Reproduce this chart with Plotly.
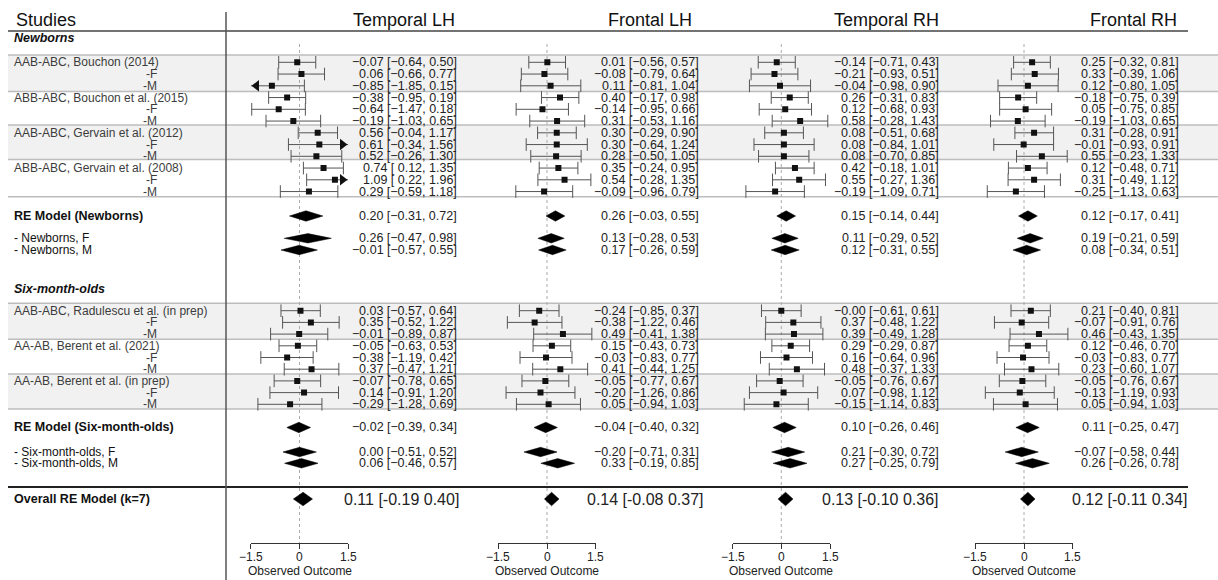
import math
import plotly.graph_objects as go

W, H = 1218, 580

# ---------------- data ----------------
panels = ["Temporal LH", "Frontal LH", "Temporal RH", "Frontal RH"]
studies_nb = ["AAB-ABC, Bouchon (2014)", "ABB-ABC, Bouchon et al. (2015)",
              "AAB-ABC, Gervain et al. (2012)", "ABB-ABC, Gervain et al. (2008)"]
studies_six = ["AAB-ABC, Radulescu et al. (in prep)", "AA-AB, Berent et al. (2021)",
               "AA-AB, Berent et al. (in prep)"]
summary_labels = ["RE Model (Newborns)", "- Newborns, F", "- Newborns, M",
                  "RE Model (Six-month-olds)", "- Six-month-olds, F", "- Six-month-olds, M"]
overall_label = "Overall RE Model (k=7)"
tick_vals = [-1.5, 0, 1.5]
tick_text = ["\u22121.5", "0", "1.5"]

# study rows: 12 newborn rows (study, F, M x4) then 9 six-month rows (x3)
tlh_est = [-0.07, 0.06, -0.85, -0.38, -0.64, -0.19, 0.56, 0.61, 0.52, 0.74, 1.09, 0.29,
           0.03, 0.35, -0.01, -0.05, -0.38, 0.37, -0.07, 0.14, -0.29]
tlh_lo = [-0.64, -0.66, -1.85, -0.95, -1.47, -1.03, -0.04, -0.34, -0.26, 0.12, 0.22, -0.59,
          -0.57, -0.52, -0.89, -0.63, -1.19, -0.47, -0.78, -0.91, -1.28]
tlh_hi = [0.50, 0.77, 0.15, 0.19, 0.18, 0.65, 1.17, 1.56, 1.30, 1.35, 1.96, 1.18,
          0.64, 1.22, 0.87, 0.53, 0.42, 1.21, 0.65, 1.20, 0.69]
tlh_re_est = [0.20, 0.26, -0.01, -0.02, 0.00, 0.06]
tlh_re_lo = [-0.31, -0.47, -0.57, -0.39, -0.51, -0.46]
tlh_re_hi = [0.72, 0.98, 0.55, 0.34, 0.52, 0.57]
tlh_overall = [0.11, -0.19, 0.40]

flh_est = [0.01, -0.08, 0.11, 0.40, -0.14, 0.31, 0.30, 0.30, 0.28, 0.35, 0.54, -0.09,
           -0.24, -0.38, 0.49, 0.15, -0.03, 0.41, -0.05, -0.20, 0.05]
flh_lo = [-0.56, -0.79, -0.81, -0.17, -0.95, -0.53, -0.29, -0.64, -0.50, -0.24, -0.28, -0.96,
          -0.85, -1.22, -0.41, -0.43, -0.83, -0.44, -0.77, -1.26, -0.94]
flh_hi = [0.57, 0.64, 1.04, 0.98, 0.66, 1.16, 0.90, 1.24, 1.05, 0.95, 1.35, 0.79,
          0.37, 0.46, 1.38, 0.73, 0.77, 1.25, 0.67, 0.86, 1.03]
flh_re_est = [0.26, 0.13, 0.17, -0.04, -0.20, 0.33]
flh_re_lo = [-0.03, -0.28, -0.26, -0.40, -0.71, -0.19]
flh_re_hi = [0.55, 0.53, 0.59, 0.32, 0.31, 0.85]
flh_overall = [0.14, -0.08, 0.37]

trh_est = [-0.14, -0.21, -0.04, 0.26, 0.12, 0.58, 0.08, 0.08, 0.08, 0.42, 0.55, -0.19,
           -0.0, 0.37, 0.39, 0.29, 0.16, 0.48, -0.05, 0.07, -0.15]
trh_lo = [-0.71, -0.93, -0.98, -0.31, -0.68, -0.28, -0.51, -0.84, -0.70, -0.18, -0.27, -1.09,
          -0.61, -0.48, -0.49, -0.29, -0.64, -0.37, -0.76, -0.98, -1.14]
trh_hi = [0.43, 0.51, 0.90, 0.83, 0.93, 1.43, 0.68, 1.01, 0.85, 1.01, 1.36, 0.71,
          0.61, 1.22, 1.28, 0.87, 0.96, 1.33, 0.67, 1.12, 0.83]
trh_re_est = [0.15, 0.11, 0.12, 0.10, 0.21, 0.27]
trh_re_lo = [-0.14, -0.29, -0.31, -0.26, -0.30, -0.25]
trh_re_hi = [0.44, 0.52, 0.55, 0.46, 0.72, 0.79]
trh_overall = [0.13, -0.10, 0.36]

frh_est = [0.25, 0.33, 0.12, -0.18, 0.05, -0.19, 0.31, -0.01, 0.55, 0.12, 0.31, -0.25,
           0.21, -0.07, 0.46, 0.12, -0.03, 0.23, -0.05, -0.13, 0.05]
frh_lo = [-0.32, -0.39, -0.80, -0.75, -0.75, -1.03, -0.28, -0.93, -0.23, -0.48, -0.49, -1.13,
          -0.40, -0.91, -0.43, -0.46, -0.83, -0.60, -0.76, -1.19, -0.94]
frh_hi = [0.81, 1.06, 1.05, 0.39, 0.85, 0.65, 0.91, 0.91, 1.33, 0.71, 1.12, 0.63,
          0.81, 0.76, 1.35, 0.70, 0.77, 1.07, 0.67, 0.93, 1.03]
frh_re_est = [0.12, 0.19, 0.08, 0.11, -0.07, 0.26]
frh_re_lo = [-0.17, -0.21, -0.34, -0.25, -0.58, -0.26]
frh_re_hi = [0.41, 0.59, 0.51, 0.47, 0.44, 0.78]
frh_overall = [0.12, -0.11, 0.34]

panel_data = [
    (tlh_est, tlh_lo, tlh_hi, tlh_re_est, tlh_re_lo, tlh_re_hi, tlh_overall),
    (flh_est, flh_lo, flh_hi, flh_re_est, flh_re_lo, flh_re_hi, flh_overall),
    (trh_est, trh_lo, trh_hi, trh_re_est, trh_re_lo, trh_re_hi, trh_overall),
    (frh_est, frh_lo, frh_hi, frh_re_est, frh_re_lo, frh_re_hi, frh_overall),
]

# ---------------- layout geometry (pixels) ----------------
nb_y = [62.3 + 11.75 * i for i in range(12)]
six_y = [310.7 + 11.7 * i for i in range(9)]
study_y = nb_y + six_y
summ_y = [216, 238.3, 250, 427.5, 452, 463.3]
summ_h = [5.2, 4.7, 4.7, 5.2, 4.7, 4.7]
overall_y, overall_h = 499, 6.8
axis_y = 543
zero_px = [299.5, 547.0, 781.3, 1024.0]
unit_px = 32.5
alim = 1.5
text_right = [458, 700, 940, 1180]
overall_right = [460, 705, 940, 1188]
header_right = [456, 693, 940, 1178]
FONT = "Liberation Sans, Arial, Helvetica, sans-serif"


def px_x(p):
    return p / W


def px_y(p):
    return 1 - p / H


def fmt(v):
    neg = v < 0 or (v == 0 and math.copysign(1, v) < 0)
    return ("\u2212" if neg else "") + f"{abs(v):.2f}"


def ci_text(e, l, h):
    ls = fmt(l) if l < 0 else " " + fmt(l)
    return f"{fmt(e)} [{ls}, {fmt(h)}]"


fig = go.Figure()
annotations = []
shapes = []


def ann(text, x, y, anchor="left", size=12, color="#222", bold=False, italic=False,
        xref="paper", xval=None):
    t = text
    if bold:
        t = f"<b>{t}</b>"
    if italic:
        t = f"<i>{t}</i>"
    annotations.append(dict(text=t, x=px_x(x) if xval is None else xval, y=px_y(y),
                            xref=xref, yref="paper",
                            xanchor=anchor, yanchor="middle", showarrow=False,
                            font=dict(size=size, color=color, family=FONT), borderpad=0))


# shaded bands
for y0, y1 in [(55, 91.5), (125, 159.5), (303.3, 339.3), (374, 409)]:
    shapes.append(dict(type="rect", xref="paper", yref="y", x0=px_x(8), x1=1, y0=y0, y1=y1,
                       fillcolor="#f1f1f1", line=dict(width=0), layer="below"))
for yl in [55, 91.5, 125, 159.5, 196.7, 303.3, 339.3, 374, 409]:
    shapes.append(dict(type="line", xref="paper", yref="y", x0=px_x(8), x1=1, y0=yl, y1=yl,
                       line=dict(color="#bdbdbd", width=1.6), layer="below"))
# header rule, overall rule, vertical separator
shapes.append(dict(type="line", xref="paper", yref="y", x0=px_x(8), x1=px_x(1188), y0=31, y1=31,
                   line=dict(color="#444", width=1.5)))
shapes.append(dict(type="line", xref="paper", yref="y", x0=px_x(8), x1=px_x(1188), y0=487, y1=487,
                   line=dict(color="#222", width=2)))
shapes.append(dict(type="line", xref="paper", yref="y", x0=px_x(226), x1=px_x(226), y0=12, y1=H,
                   line=dict(color="#555", width=1.5)))

layout_axes = {}
for i, (name, data) in enumerate(zip(panels, panel_data)):
    est, lo, hi, re_est, re_lo, re_hi, ov = data
    xa = "x" if i == 0 else f"x{i + 1}"
    key = "xaxis" if i == 0 else f"xaxis{i + 1}"
    z = zero_px[i]
    layout_axes[key] = dict(
        domain=[px_x(z - alim * unit_px), px_x(z + alim * unit_px)],
        range=[-alim, alim], anchor="free", position=px_y(axis_y),
        tickvals=tick_vals, ticks="outside", ticklen=5, showticklabels=False,
        tickcolor="#333", showline=True, linecolor="#333", linewidth=1,
        showgrid=False, zeroline=False, automargin=False, fixedrange=True)

    # dotted zero line
    shapes.append(dict(type="line", xref=xa, yref="y", x0=0, x1=0, y0=44, y1=axis_y,
                       line=dict(color="#aaa", width=1, dash="dot"), layer="below"))

    # CI lines (clipped)
    lx, ly, cx, cy, ax_l, ay_l, ax_r, ay_r = [], [], [], [], [], [], [], []
    tri_off = (5 * 2 / math.sqrt(3)) / unit_px
    for e, l, h, y in zip(est, lo, hi, study_y):
        lc, hc = max(l, -alim), min(h, alim)
        lx += [lc, hc, None]
        ly += [y, y, None]
        if l >= -alim:
            cx.append(l); cy.append(y)
        else:
            ax_l.append(-alim + tri_off); ay_l.append(y)
        if h <= alim:
            cx.append(h); cy.append(y)
        else:
            ax_r.append(alim - tri_off); ay_r.append(y)
    fig.add_trace(go.Scatter(x=lx, y=ly, mode="lines", xaxis=xa, yaxis="y",
                             line=dict(color="#555", width=1), hoverinfo="skip"))
    fig.add_trace(go.Scatter(x=cx, y=cy, mode="markers", xaxis=xa, yaxis="y",
                             marker=dict(symbol="line-ns-open", size=9, color="#555",
                                         line=dict(color="#555", width=1)), hoverinfo="skip"))
    fig.add_trace(go.Scatter(x=est, y=study_y, mode="markers", xaxis=xa, yaxis="y",
                             marker=dict(symbol="square", size=6, color="#111",
                                         line=dict(width=0))))
    if ax_l:
        fig.add_trace(go.Scatter(x=ax_l, y=ay_l, mode="markers", xaxis=xa, yaxis="y",
                                 cliponaxis=False,
                                 marker=dict(symbol="triangle-left", size=10, color="#111")))
    if ax_r:
        fig.add_trace(go.Scatter(x=ax_r, y=ay_r, mode="markers", xaxis=xa, yaxis="y",
                                 cliponaxis=False,
                                 marker=dict(symbol="triangle-right", size=10, color="#111")))

    # summary diamonds
    dx, dy = [], []
    for e, l, h, y, hh in zip(re_est, re_lo, re_hi, summ_y, summ_h):
        dx += [l, e, h, e, l, None]
        dy += [y, y - hh, y, y + hh, y, None]
    e, l, h = ov
    dx += [l, e, h, e, l]
    dy += [overall_y, overall_y - overall_h, overall_y, overall_y + overall_h, overall_y]
    fig.add_trace(go.Scatter(x=dx, y=dy, mode="lines", fill="toself", fillcolor="#000",
                             xaxis=xa, yaxis="y", line=dict(color="#000", width=0.5),
                             hoverinfo="skip"))

    # texts
    ann(name, header_right[i], 20, anchor="right", size=18, color="#111")
    for e, l, h, y in zip(est, lo, hi, study_y):
        ann(ci_text(e, l, h), text_right[i], y, anchor="right", size=12.5)
    for e, l, h, y in zip(re_est, re_lo, re_hi, summ_y):
        ann(ci_text(e, l, h), text_right[i], y, anchor="right", size=12.5)
    e, l, h = ov
    ann(f"{e:.2f} [{l:.2f} {h:.2f}]", overall_right[i], overall_y, anchor="right", size=16)
    for tv, tt in zip(tick_vals, tick_text):
        ann(tt, 0, 557, anchor="center", size=12, xref=xa, xval=tv)
    ann("Observed Outcome", z, 571, anchor="center", size=12)

# left column labels
ann("Studies", 15, 20, size=18, color="#111")
ann("Newborns", 13, 38, size=12.5, color="#111", bold=True, italic=True)
ann("Six-month-olds", 13, 289, size=12.5, color="#111", bold=True, italic=True)
for s, k in zip(studies_nb, range(0, 12, 3)):
    ann(s, 13, nb_y[k], color="#3c3c3c")
    ann("-F", 158, nb_y[k + 1], anchor="right", color="#3c3c3c")
    ann("-M", 158, nb_y[k + 2], anchor="right", color="#3c3c3c")
for s, k in zip(studies_six, range(0, 9, 3)):
    ann(s, 13, six_y[k], color="#3c3c3c")
    ann("-F", 158, six_y[k + 1], anchor="right", color="#3c3c3c")
    ann("-M", 158, six_y[k + 2], anchor="right", color="#3c3c3c")
for lab, y in zip(summary_labels, summ_y):
    isre = lab.startswith("RE")
    ann(lab, 13, y, color="#111", bold=isre, size=12.5 if isre else 12)
ann(overall_label, 13, overall_y, color="#111", bold=True, size=12.5)

fig.update_layout(
    width=W, height=H, margin=dict(l=0, r=0, t=0, b=0, pad=0, autoexpand=False),
    paper_bgcolor="white", plot_bgcolor="rgba(0,0,0,0)",
    showlegend=False, font=dict(family=FONT),
    yaxis=dict(range=[H, 0], domain=[0, 1], visible=False, fixedrange=True, automargin=False),
    annotations=annotations, shapes=shapes,
    **layout_axes,
)
fig.write_html("out.html")
